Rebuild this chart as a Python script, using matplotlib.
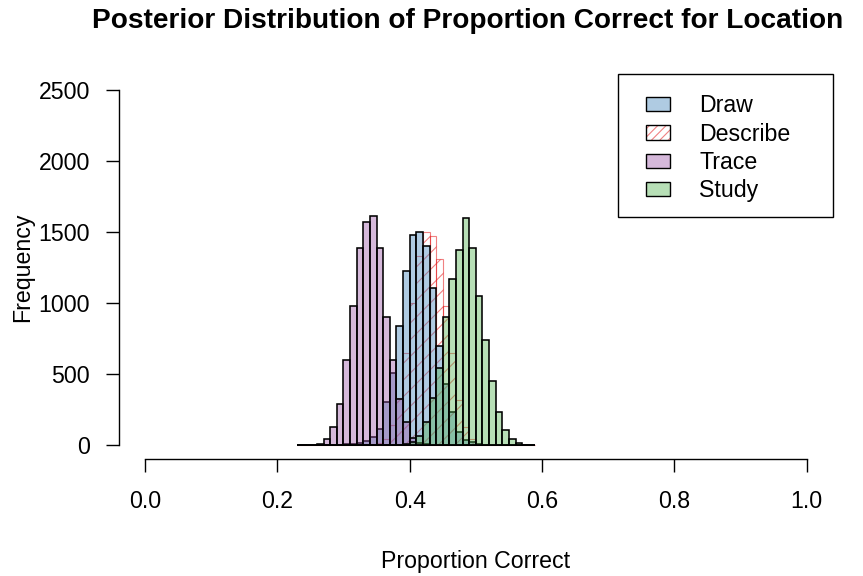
import matplotlib
matplotlib.use('Agg')
import matplotlib.pyplot as plt
from matplotlib.patches import Rectangle

# ---- data -------------------------------------------------------------
bin_edges = [round(0.23 + 0.01 * i, 2) for i in range(37)]
bin_width = 0.01

draw_counts = [0, 0, 0, 0, 0, 0, 2, 4, 7, 16, 28, 54, 115, 300, 505, 840, 1228,
               1481, 1502, 1404, 1109, 694, 427, 235, 94, 35, 19, 6, 2,
               0, 0, 0, 0, 0, 0, 0]
describe_counts = [0, 0, 0, 0, 0, 0, 0, 0, 0, 0, 2, 4, 12, 45, 140, 330, 650,
                   1000, 1330, 1500, 1470, 1311, 979, 646, 317, 129, 40, 10, 2,
                   0, 0, 0, 0, 0, 0, 0]
trace_counts = [0, 0, 0, 5, 45, 129, 289, 599, 979, 1388, 1572, 1614, 1388, 902,
                600, 322, 164, 52, 15, 4, 1,
                0, 0, 0, 0, 0, 0, 0, 0, 0, 0, 0, 0, 0, 0, 0]
study_counts = [0, 0, 0, 0, 0, 0, 0, 0, 0, 0, 0, 0, 0, 0, 0, 2, 5, 20, 60, 160,
                330, 545, 904, 1168, 1373, 1596, 1388, 1050, 737, 453, 235,
                106, 45, 15, 3, 0]

series_names = ["Draw", "Describe", "Trace", "Study"]
x_ticks = [0.0, 0.2, 0.4, 0.6, 0.8, 1.0]
x_tick_labels = ["0.0", "0.2", "0.4", "0.6", "0.8", "1.0"]
y_ticks = [0, 500, 1000, 1500, 2000, 2500]

# ---- style ------------------------------------------------------------
plt.rcParams['font.family'] = ['Liberation Sans', 'DejaVu Sans']
plt.rcParams['hatch.linewidth'] = 0.8

c_blue = (0x37 / 255, 0x7E / 255, 0xB8 / 255, 0.4)
c_purple = (0x98 / 255, 0x4E / 255, 0xA3 / 255, 0.4)
c_green = (0x4D / 255, 0xAF / 255, 0x4A / 255, 0.4)
c_red = (0xE4 / 255, 0x1A / 255, 0x1C / 255, 0.55)

W, H = 863, 576
fig = plt.figure(figsize=(W / 100, H / 100), dpi=100)
fig.patch.set_facecolor('white')

left_px, right_px, top_px, bottom_px = 118.5, 833.2, 75.8, 459.2
ax = fig.add_axes([left_px / W, 1 - bottom_px / H,
                   (right_px - left_px) / W, (bottom_px - top_px) / H])

lefts = bin_edges[:-1]
edge_lw = 1.15
ax.bar(lefts, describe_counts, width=bin_width, align='edge', color='none',
       edgecolor=c_red, linewidth=0.8, hatch='//')
ax.bar(lefts, draw_counts, width=bin_width, align='edge', color=c_blue,
       edgecolor='black', linewidth=edge_lw)
ax.bar(lefts, trace_counts, width=bin_width, align='edge', color=c_purple,
       edgecolor='black', linewidth=edge_lw)
ax.bar(lefts, study_counts, width=bin_width, align='edge', color=c_green,
       edgecolor='black', linewidth=edge_lw)

ax.set_xlim(-0.04, 1.04)
ax.set_ylim(-100, 2600)

for s in ['top', 'right']:
    ax.spines[s].set_visible(False)
ax.spines['left'].set_bounds(0, 2500)
ax.spines['bottom'].set_bounds(0, 1)
for s in ['left', 'bottom']:
    ax.spines[s].set_linewidth(1.0)

ax.set_xticks(x_ticks)
ax.set_xticklabels(x_tick_labels)
ax.set_yticks(y_ticks)
ax.set_yticklabels([str(v) for v in y_ticks])
ax.tick_params(axis='both', direction='out', length=9.5, width=1.0,
               labelsize=16.7, colors='black')
ax.tick_params(axis='x', pad=13)
ax.tick_params(axis='y', pad=11)

# axis titles and main title
fig.text(475.8 / W, 1 - 568 / H, "Proportion Correct", ha='center',
         va='baseline', fontsize=16.7)
fig.text(29 / W, 1 - 267.5 / H, "Frequency", ha='center', va='baseline',
         rotation=90, fontsize=16.7, rotation_mode='anchor')
fig.text(468 / W, 1 - 28 / H,
         "Posterior Distribution of Proportion Correct for Location",
         ha='center', va='baseline', fontsize=20.2, fontweight='bold')

# ---- legend (drawn manually, R style) --------------------------------
def fx(px):
    return px / W


def fy(py):
    return 1 - py / H


fig.patches.append(Rectangle((fx(618.3), fy(216.7)), (833.3 - 618.3) / W,
                             (216.7 - 74) / H, transform=fig.transFigure,
                             facecolor='white', edgecolor='black',
                             linewidth=1.0, zorder=5))
row_centers = [103.7, 132.5, 161.0, 189.2]
styles = [dict(fc=c_blue, hatch=None), dict(fc='none', hatch='//'),
          dict(fc=c_purple, hatch=None), dict(fc=c_green, hatch=None)]
for name, yc, st in zip(series_names, row_centers, styles):
    x0, w, h = 646, 24, 14
    if st['hatch']:
        fig.patches.append(Rectangle((fx(x0), fy(yc + h / 2)), w / W, h / H,
                                     transform=fig.transFigure, facecolor='none',
                                     edgecolor=c_red, linewidth=0.0,
                                     hatch='////', zorder=6))
    fig.patches.append(Rectangle((fx(x0), fy(yc + h / 2)), w / W, h / H,
                                 transform=fig.transFigure, facecolor=st['fc'],
                                 edgecolor='black', linewidth=1.0, zorder=7))
    fig.text(fx(699), fy(yc + 8.3), name, ha='left', va='baseline',
             fontsize=16.7, zorder=8)

fig.savefig('out.png', dpi=100, facecolor='white')
